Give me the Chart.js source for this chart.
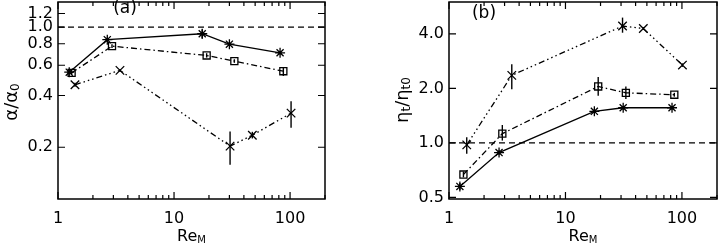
<!DOCTYPE html>
<html>
<head>
<meta charset="UTF-8">
<title>alpha / eta_t vs Re_M</title>
<style>
  body { margin: 0; background: #fff; }
  .panel { position: absolute; top: 0; height: 247px; }
  #left { left: 0; width: 360px; }
  #right { left: 360px; width: 358px; }
</style>
</head>
<body>
<div class="panel" id="left"><canvas id="chartA"></canvas></div>
<div class="panel" id="right"><canvas id="chartB"></canvas></div>

<script src="https://cdn.jsdelivr.net/npm/chart.js"></script>
<script>
// ---- data ----
// panel (a): alpha / alpha_0
const reA1 = [1.25, 2.66, 17.5, 30, 82];
const alphaA1 = [0.547, 0.845, 0.915, 0.796, 0.709];
const alphaA1Lo = [0.53, 0.82, 0.86, 0.78, 0.695];
const alphaA1Hi = [0.565, 0.87, 0.97, 0.81, 0.72];

const reA2 = [1.31, 2.92, 19.1, 33.1, 87.5];
const alphaA2 = [0.542, 0.775, 0.684, 0.634, 0.554];
const alphaA2Lo = [0.53, 0.755, 0.665, 0.62, 0.52];
const alphaA2Hi = [0.555, 0.795, 0.705, 0.65, 0.585];

const reA3 = [1.40, 3.42, 30.4, 47.3, 102];
const alphaA3 = [0.462, 0.56, 0.203, 0.235, 0.316];
const alphaA3Lo = [0.45, 0.55, 0.158, 0.225, 0.26];
const alphaA3Hi = [0.475, 0.57, 0.247, 0.246, 0.371];

// panel (b): eta_t / eta_t0
const reB1 = [1.24, 2.69, 17.7, 31.3, 82.2];
const etaB1 = [0.575, 0.884, 1.494, 1.564, 1.564];
const etaB1Lo = [0.55, 0.86, 1.46, 1.53, 1.53];
const etaB1Hi = [0.60, 0.91, 1.53, 1.60, 1.60];

const reB2 = [1.33, 2.87, 19.1, 33, 86];
const etaB2 = [0.669, 1.125, 2.05, 1.89, 1.845];
const etaB2Lo = [0.645, 1.03, 1.82, 1.745, 1.80];
const etaB2Hi = [0.695, 1.256, 2.31, 2.05, 1.89];

const reB3 = [1.42, 3.46, 30.9, 46.6, 101];
const etaB3 = [0.975, 2.36, 4.42, 4.28, 2.69];
const etaB3Lo = [0.87, 1.98, 4.06, 4.2, 2.63];
const etaB3Hi = [1.075, 2.72, 4.92, 4.36, 2.75];

// reference line at 1
const refX = [1, 200];
const refY = [1, 1];

// ticks
const xLabels = [1, 10, 100];
const xMinor = [2, 3, 4, 5, 6, 7, 8, 9, 20, 30, 40, 50, 60, 70, 80, 90, 200];
const yTicksA = [0.2, 0.4, 0.6, 0.8, 1.0, 1.2];
const yTicksB = [0.5, 1.0, 2.0, 4.0];

Chart.defaults.font.family = 'DejaVu Sans';
Chart.defaults.font.size = 16;
Chart.defaults.color = '#000';

function pts(xs, ys) {
  return xs.map((x, i) => ({ x: x, y: ys[i] }));
}

function drawParts(ctx, parts, cx, cy) {
  let w = 0;
  parts.forEach(p => {
    ctx.font = p.s + 'px "DejaVu Sans"';
    p.w = ctx.measureText(p.t).width;
    w += p.w;
  });
  let x = cx - w / 2;
  ctx.textAlign = 'left';
  ctx.textBaseline = 'middle';
  parts.forEach(p => {
    ctx.font = p.s + 'px "DejaVu Sans"';
    ctx.fillText(p.t, x, cy + p.dy);
    x += p.w;
  });
}

// frame, inside ticks, error bars and titles
const framePlugin = {
  id: 'frame',
  afterDatasetsDraw(chart, args, o) {
    const ctx = chart.ctx;
    const a = chart.chartArea;
    const xs = chart.scales.x, ys = chart.scales.y;
    ctx.save();
    ctx.strokeStyle = '#000';
    ctx.fillStyle = '#000';

    ctx.lineWidth = 1.4;
    chart.data.datasets.forEach(ds => {
      if (!ds.errLo) return;
      ds.data.forEach((p, i) => {
        const px = xs.getPixelForValue(p.x);
        ctx.beginPath();
        ctx.moveTo(px, ys.getPixelForValue(ds.errLo[i]));
        ctx.lineTo(px, ys.getPixelForValue(ds.errHi[i]));
        ctx.stroke();
      });
    });

    ctx.lineWidth = 1.5;
    ctx.strokeRect(a.left, a.top, a.right - a.left, a.bottom - a.top);

    ctx.lineWidth = 1.2;
    ctx.beginPath();
    xLabels.concat(xMinor).forEach(v => {
      const len = xLabels.includes(v) ? 7 : 4;
      const px = xs.getPixelForValue(v);
      if (px < a.left || px > a.right) return;
      ctx.moveTo(px, a.bottom); ctx.lineTo(px, a.bottom - len);
      ctx.moveTo(px, a.top); ctx.lineTo(px, a.top + len);
    });
    o.yTicks.forEach(v => {
      const py = ys.getPixelForValue(v);
      ctx.moveTo(a.left, py); ctx.lineTo(a.left + 7, py);
      ctx.moveTo(a.right, py); ctx.lineTo(a.right - 7, py);
    });
    ctx.stroke();

    // y title
    ctx.save();
    ctx.translate(o.yTitlePos[0], o.yTitlePos[1]);
    ctx.rotate(-Math.PI / 2);
    drawParts(ctx, o.yTitle, 0, 0);
    ctx.restore();

    // x title
    drawParts(ctx, [{ t: 'Re', s: 16, dy: 0 }, { t: 'M', s: 10, dy: 3 }], (a.left + a.right) / 2, 237);

    // panel label
    ctx.font = '17px "DejaVu Sans"';
    ctx.textAlign = 'center';
    ctx.textBaseline = 'middle';
    ctx.fillText(o.label, o.labelPos[0], o.labelPos[1]);
    ctx.restore();
  }
};

function series(xs, ys, lo, hi, style, radius, dash) {
  return {
    data: pts(xs, ys),
    errLo: lo,
    errHi: hi,
    showLine: true,
    borderColor: '#000',
    borderWidth: 1.3,
    borderDash: dash,
    pointStyle: style,
    pointRadius: radius,
    pointBorderWidth: 1.3,
    pointBorderColor: '#000',
    pointBackgroundColor: 'rgba(0,0,0,0)'
  };
}

function refLine() {
  return {
    data: pts(refX, refY),
    showLine: true,
    borderColor: '#000',
    borderWidth: 1.3,
    borderDash: [6, 4],
    pointRadius: 0
  };
}

function makeChart(id, datasets, yMin, yMax, yTicks, yWidth, padRight, frameOpts) {
  return new Chart(document.getElementById(id), {
    type: 'scatter',
    data: { datasets: datasets },
    options: {
      responsive: true,
      maintainAspectRatio: false,
      animation: false,
      layout: { autoPadding: false, padding: { top: 2, right: padRight, left: 0, bottom: 0 } },
      plugins: { legend: { display: false }, tooltip: { enabled: false }, frame: frameOpts },
      scales: {
        x: {
          type: 'logarithmic',
          min: 1, max: 200,
          afterBuildTicks: s => { s.ticks = xLabels.map(v => ({ value: v })); },
          afterFit: s => { s.height = 48; s.paddingLeft = 0; s.paddingRight = 0; },
          ticks: { callback: v => String(v), autoSkip: false, maxRotation: 0, padding: 10 },
          grid: { display: false, drawTicks: false },
          border: { display: false }
        },
        y: {
          type: 'logarithmic',
          min: yMin, max: yMax,
          afterBuildTicks: s => { s.ticks = yTicks.map(v => ({ value: v })); },
          afterFit: s => { s.width = yWidth; s.paddingTop = 0; s.paddingBottom = 0; },
          ticks: { callback: v => Number(v).toFixed(1), autoSkip: false, padding: 5 },
          grid: { display: false, drawTicks: false },
          border: { display: false }
        }
      }
    },
    plugins: [framePlugin]
  });
}

const dashDot = [6, 3, 1.5, 3];
const dashDotDot = [6, 3, 1.5, 3, 1.5, 3, 1.5, 3];

makeChart('chartA', [
  refLine(),
  series(reA1, alphaA1, alphaA1Lo, alphaA1Hi, 'star', 5, []),
  series(reA2, alphaA2, alphaA2Lo, alphaA2Hi, 'rect', 5, dashDot),
  series(reA3, alphaA3, alphaA3Lo, alphaA3Hi, 'crossRot', 6, dashDotDot)
], 0.1, 1.4, yTicksA, 58, 35, {
  yTicks: yTicksA,
  yTitle: [{ t: 'α/α', s: 18, dy: 0 }, { t: '0', s: 12, dy: 4 }],
  yTitlePos: [12, 102],
  label: '(a)',
  labelPos: [125, 9]
});

makeChart('chartB', [
  refLine(),
  series(reB1, etaB1, etaB1Lo, etaB1Hi, 'star', 5, []),
  series(reB2, etaB2, etaB2Lo, etaB2Hi, 'rect', 5, dashDot),
  series(reB3, etaB3, etaB3Lo, etaB3Hi, 'crossRot', 6, dashDotDot)
], 0.49, 6, yTicksB, 89, 1, {
  yTicks: yTicksB,
  yTitle: [{ t: 'η', s: 18, dy: 0 }, { t: 't', s: 12, dy: 4 }, { t: '/η', s: 18, dy: 0 }, { t: 't0', s: 12, dy: 4 }],
  yTitlePos: [43, 100],
  label: '(b)',
  labelPos: [124, 14]
});
</script>
</body>
</html>
